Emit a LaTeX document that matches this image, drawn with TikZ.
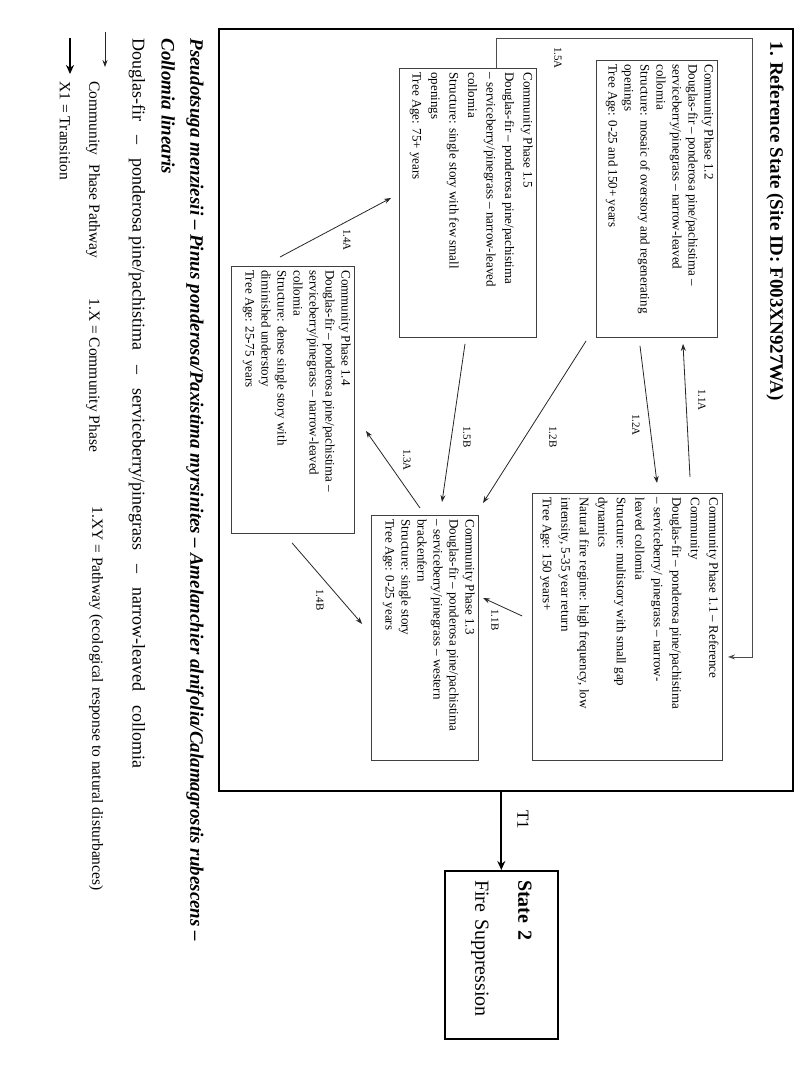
\documentclass[tikz,border=0pt]{standalone}
\usepackage{fontspec}
\setmainfont{Liberation Serif}
\usetikzlibrary{calc,arrows.meta}

\newcommand{\phasetext}[3]{\parbox[c][#2][t]{#1}{\raggedright #3}}

\begin{document}
\begin{tikzpicture}[x=1pt, y=-1pt,
  phase/.style={draw=black!75, line width=0.9pt, rotate=-90, anchor=north west,
    inner sep=4pt, font=\fontsize{13}{16}\selectfont},
  wide/.style={font=\fontsize{13}{18.5}\selectfont},
  pathway/.style={draw=black!85, line width=0.8pt, -{Stealth[length=7pt,width=5pt]}},
  transition/.style={draw=black, line width=2.2pt, -{Stealth[length=9pt,width=8pt]}},
  code/.style={rotate=-90, font=\fontsize{11}{13}\selectfont},
  legend/.style={rotate=-90, anchor=west, font=\fontsize{15.5}{18}\selectfont}]

\useasboundingbox (0,0) rectangle (800,1065);

% reference state frame
\node[draw, line width=2.4pt, minimum width=574pt, minimum height=762pt, anchor=north west] (state1) at (218,28) {};
\node[rotate=-90, anchor=west, font=\fontsize{19}{22}\selectfont\bfseries] (title) at (775,38) {1. Reference State (Site ID: F003XN927WA)};

% community phases
\node[phase] (p12) at (718,60) {\phasetext{269pt}{113pt}{Community Phase 1.2\\ Douglas-fir -- ponderosa pine/pachistima --\\ serviceberry/pinegrass -- narrow-leaved\\ collomia\\ Structure: mosaic of overstory and regenerating\\ openings\\ Tree Age: 0-25 and 150+ years}};
\node[phase, wide] (p11) at (723,493) {\phasetext{259pt}{182pt}{Community Phase 1.1 -- Reference\\ Community\\ Douglas-fir -- ponderosa pine/pachistima\\ -- serviceberry/ pinegrass -- narrow-\\ leaved collomia\\ Structure: multistory with small gap\\ dynamics\\ Natural fire regime: high frequency, low\\ intensity, 5-35 year return\\ Tree Age: 150 years+}};
\node[phase, wide] (p15) at (537,68) {\phasetext{261pt}{129pt}{Community Phase 1.5\\ Douglas-fir -- ponderosa pine/pachistima\\ -- serviceberry/pinegrass -- narrow-leaved\\ collomia\\ Structure: single story with few small\\ openings\\ Tree Age: 75+ years}};
\node[phase] (p14) at (355,266) {\phasetext{259pt}{115pt}{Community Phase 1.4\\ Douglas-fir -- ponderosa pine/pachistima --\\ serviceberry/pinegrass -- narrow-leaved\\ collomia\\ Structure: dense single story with\\ diminished understory\\ Tree Age: 25-75 years}};
\node[phase] (p13) at (479,515) {\phasetext{237pt}{99pt}{Community Phase 1.3\\ Douglas-fir -- ponderosa pine/pachistima\\ -- serviceberry/pinegrass -- western\\ brackenfern\\ Structure: single story\\ Tree Age: 0-25 years}};

% state 2
\node[draw, line width=2.4pt, rotate=-90, anchor=north west, minimum width=168pt, minimum height=113pt,
  text width=150pt, align=left, font=\fontsize{20}{24}\selectfont] (s2) at (559,870) {\textbf{State 2}\\[19pt]Fire Suppression};

% pathways
\draw[pathway] ($(p11.north west)+(-33,-16)$) -- ($(p12.north east)+(-35,6)$);
\draw[pathway] ($(p12.north east)+(-78,8)$) -- ($(p11.north west)+(-66,-10)$);
\draw[pathway] ($(p12.south east)+(-10,3)$) -- ($(p13.north west)+(4,-12)$);
\draw[pathway] ($(p15.north east)+(-72,6)$) -- ($(p13.north west)+(-37,-13)$);
\draw[pathway] ($(p13.north west)+(-59,-7)$) -- ($(p14.north)+(11,31)$);
\draw[pathway] ($(p14.west)+(-13,-9)$) -- ($(p15.south)+(-8,-5)$);
\draw[pathway] ($(p14.east)+(-1,9)$) -- ($(p13.south)+(-9,-14)$);
\draw[pathway] ($(p11.south)+(-10,-11)$) -- ($(p13.north)+(4,-40)$);
\draw[pathway, draw=black!70, line width=0.7pt] ($(p15.west)+(28,0)$) -- ++(0,-30) -| ($(p11.north)+(29,30)$) -- ++(-24,0);

\node[code] (l11a) at (702,400) {1.1A};
\node[code] (l12a) at (636,425) {1.2A};
\node[code] (l12b) at (553,437) {1.2B};
\node[code] (l15b) at (467,437) {1.5B};
\node[code] (l13a) at (407,460) {1.3A};
\node[code] (l14a) at (347,240) {1.4A};
\node[code] (l14b) at (320,600) {1.4B};
\node[code] (l11b) at (495,620) {1.1B};
\node[code] (l15a) at (558,58) {1.5A};

% transition
\draw[transition] (state1.south -| s2.west) -- (s2.west);
\node[rotate=-90, font=\fontsize{17}{20}\selectfont] (t1) at (523,820) {T1};

% legend
\node[legend, font=\fontsize{19}{22}\selectfont\bfseries\itshape] (latin) at (195,35) {Pseudotsuga menziesii -- Pinus ponderosa/Paxistima myrsinites -- Amelanchier alnifolia/Calamagrostis rubescens --};
\node[legend, font=\fontsize{19}{22}\selectfont\bfseries\itshape] (latin2) at (168,35) {Collomia linearis};
\node[legend, font=\fontsize{18}{22}\selectfont] (common) at (137,35) {Douglas-fir\hspace{14pt}--\hspace{14pt}ponderosa pine/pachistima\hspace{15pt}--\hspace{14pt}serviceberry/pinegrass\hspace{14pt}--\hspace{14pt}narrow-leaved\hspace{14pt}collomia};
\coordinate (k1) at (105,32);
\coordinate (k2) at (105,67);
\draw[pathway] (k1) -- (k2);
\node[legend] (kpath) at (93,78) {Community\hspace{5pt} Phase Pathway};
\node[legend] (kphase) at (93,295) {1.X = Community Phase};
\node[legend] (kxy) at (96,503) {1.XY = Pathway (ecological response to natural disturbances)};
\coordinate (k3) at (70,38);
\coordinate (k4) at (70,74);
\draw[transition] (k3) -- (k4);
\node[legend] (ktrans) at (65,78) {X1 = Transition};
\end{tikzpicture}
\end{document}
